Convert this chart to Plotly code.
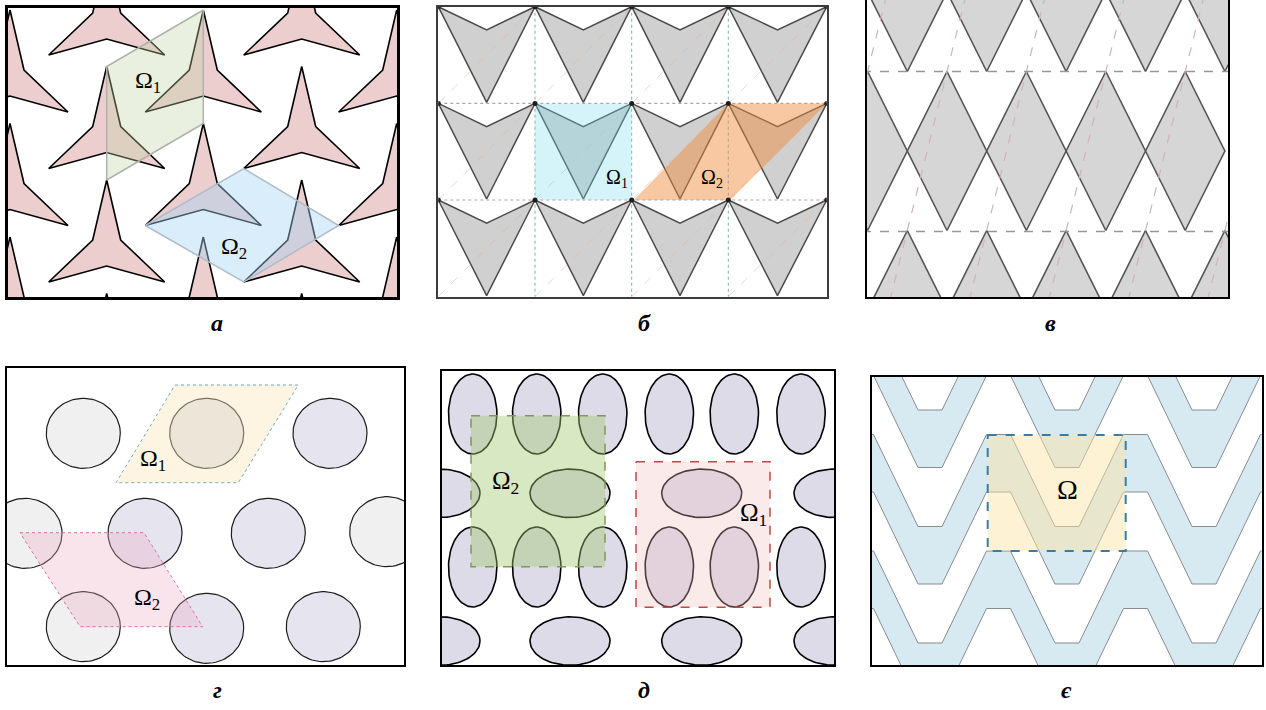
import numpy as np
import plotly.graph_objects as go

# ======================= DATA (panel-local pixel units) =======================
# (а) three-armed stars: outline relative to the upper tip, lattice of tips
STAR_DX = [0, 14, 58, 0, -58, -14]
STAR_DY = [0, 60, 102, 86, 102, 60]
STAR_COL_X = [2, 98.7, 195.3, 293.7, 388.7]
STAR_ROW_Y_EVEN = [2, 115.5, 229]
STAR_ROW_Y_ODD = [-55, 58.5, 172, 285.5]
A_OMEGA1_X = [195.3, 98.7, 98.7, 195.3]
A_OMEGA1_Y = [2, 58.5, 172, 115.5]
A_OMEGA2_X = [137.3, 235.7, 330.7, 235.7]
A_OMEGA2_Y = [217.5, 160.5, 217.5, 274]

# (б) square cells with down-pointing arrowheads
B_GRID_X = [0, 96.7, 193.4, 290, 388.4]
B_GRID_Y = [0, 96.7, 193.3, 290]
B_NOTCH = 0.24
B_OMEGA1_CELL = (1, 1)
B_OMEGA2_X = [195.4, 292, 388.4, 290]
B_OMEGA2_Y = [193.3, 193.3, 96.7, 96.7]

# (в) rhombi
V_MID_X = [0.6, 80, 159.4, 238.8, 318.2]
V_OFF_X = [-39.1, 40.3, 119.7, 199.1, 278.5, 357.9]
V_ROW_Y = [-8, 151, 310]
V_HALF_W = 39.7
V_HALF_H = 79.5
V_HLINE_Y = [71.5, 231.5]
V_SLANT_X = [-78.8, 0.6, 80, 159.4, 238.8, 318.2, 397.6]

# (г) circles
G_CX = [76.3, 199.7, 323, 18, 138, 261.3, 379.7, 76.3, 199.7, 316.3]
G_CY = [65.3, 65.3, 65.3, 165.3, 165.3, 165.3, 163.7, 258.7, 260.3, 258.7]
G_TONE = ['grey', 'lav', 'lav', 'grey', 'lav', 'lav', 'grey', 'grey', 'lav', 'lav']
G_RX, G_RY = 37, 35
G_OMEGA1_X = [168, 291.3, 231.3, 109]
G_OMEGA1_Y = [17, 17, 114.7, 114.7]
G_OMEGA2_X = [13, 137, 195.7, 73]
G_OMEGA2_Y = [164.7, 164.7, 258.7, 258.7]

# (д) ellipses
D_VERT_X = [31, 95, 161, 227.6, 292.6, 359.3]
D_VERT_Y = [43.3, 196.3]
D_HOR_X = [-1.7, 128.3, 260, 392.3]
D_HOR_Y = [122.6, 270.3]
D_LONG, D_SHORT = 40, 24.2
D_OMEGA1 = (194.3, 91, 328.3, 236.6)
D_OMEGA2 = (29.3, 45, 163.3, 196)

# (є) chevron bands
E_BOTTOM_X = [-78.7, 58.3, 195.3, 332.3, 469.3]
E_BAND_TOP_Y = [-83.2, 33.3, 149.8, 266.3, 382.8]
E_PERIOD = 137
E_FLAT = 24
E_AMPL = 92
E_THICK = 57.5
E_OMEGA = (116, 58.3, 254, 174.3)

# ======================= LAYOUT =======================
W, H = 1266, 710
FRAMES = [
    (8, 8, 397, 297),
    (438.3, 6.7, 826.7, 296.7),
    (867, 0, 1228, 297),
    (7, 368, 404, 665),
    (441.7, 370.7, 834.3, 665),
    (871.7, 376.7, 1261.7, 665),
]
FRAME_STYLE = [(2.5, 'black'), (1.5, 'rgb(60,60,60)'), (2, 'black'),
               (2, 'black'), (2, 'black'), (2, 'black')]
LETTERS = ['а', 'б', 'в', 'г', 'д', 'є']
LETTER_POS = [(217, 323), (644, 323), (1050, 323), (217, 690), (644, 690), (1066, 690)]
SERIF = 'Liberation Serif, Times New Roman, serif'

fig = go.Figure()


def refs(i):
    s = '' if i == 1 else str(i)
    return 'x' + s, 'y' + s


def add_polys(i, polys, fill, lc, lw, dash='solid'):
    X, Y = [], []
    for xs, ys in polys:
        X += list(xs) + [xs[0], None]
        Y += list(ys) + [ys[0], None]
    xr, yr = refs(i)
    fig.add_trace(go.Scatter(x=X, y=Y, mode='lines', fill='toself', fillcolor=fill,
                             line=dict(color=lc, width=lw, dash=dash),
                             xaxis=xr, yaxis=yr, hoverinfo='skip', showlegend=False))


def add_lines(i, segs, lc, lw, dash='solid'):
    X, Y = [], []
    for xs, ys in segs:
        X += list(xs) + [None]
        Y += list(ys) + [None]
    xr, yr = refs(i)
    fig.add_trace(go.Scatter(x=X, y=Y, mode='lines', line=dict(color=lc, width=lw, dash=dash),
                             xaxis=xr, yaxis=yr, hoverinfo='skip', showlegend=False))


def label(i, x, y, text, size):
    xr, yr = refs(i)
    fig.add_annotation(x=x, y=y, xref=xr, yref=yr, text=text, showarrow=False,
                       font=dict(family=SERIF, size=size, color='black'))


def ellipse(cx, cy, rx, ry, n=90):
    t = np.linspace(0, 2 * np.pi, n, endpoint=False)
    return cx + rx * np.cos(t), cy + ry * np.sin(t)


# ---- (а)
stars = []
for c, sx in enumerate(STAR_COL_X):
    rows = STAR_ROW_Y_EVEN if c % 2 == 0 else STAR_ROW_Y_ODD
    for sy in rows:
        stars.append(([sx + d for d in STAR_DX], [sy + d for d in STAR_DY]))
add_polys(1, stars, 'rgb(236,206,206)', 'black', 1.6)
add_polys(1, [(A_OMEGA1_X, A_OMEGA1_Y)], 'rgba(195,212,165,0.35)', 'rgb(175,178,170)', 1.5)
add_polys(1, [(A_OMEGA2_X, A_OMEGA2_Y)], 'rgba(165,212,245,0.42)', 'rgb(175,188,200)', 1.5)
label(1, 140, 74, 'Ω<sub>1</sub>', 24)
label(1, 226, 240, 'Ω<sub>2</sub>', 24)

# ---- (б)
arrows = []
for r in range(len(B_GRID_Y) - 1):
    for c in range(len(B_GRID_X) - 1):
        x0, x1 = B_GRID_X[c], B_GRID_X[c + 1]
        y0, y1 = B_GRID_Y[r], B_GRID_Y[r + 1]
        xm = (x0 + x1) / 2
        arrows.append(([x0, xm, x1, xm], [y0, y0 + B_NOTCH * (y1 - y0), y0, y1 - 1]))
add_polys(2, arrows, 'rgb(208,208,208)', 'rgb(75,75,75)', 1.5)
diag = []
for r in range(len(B_GRID_Y) - 1):
    for c in range(len(B_GRID_X) - 1):
        diag.append(([B_GRID_X[c], B_GRID_X[c + 1]], [B_GRID_Y[r + 1], B_GRID_Y[r]]))
add_lines(2, diag, 'rgba(225,180,160,0.55)', 1, 'dash')
add_lines(2, [([gx, gx], [B_GRID_Y[0], B_GRID_Y[-1]]) for gx in B_GRID_X[1:-1]],
          'rgb(110,180,180)', 1, 'dot')
add_lines(2, [([B_GRID_X[0], B_GRID_X[-1]], [gy, gy]) for gy in B_GRID_Y[1:-1]],
          'rgb(175,165,160)', 1.2, 'dot')
c1, r1 = B_OMEGA1_CELL
add_polys(2, [([B_GRID_X[c1], B_GRID_X[c1 + 1], B_GRID_X[c1 + 1], B_GRID_X[c1]],
               [B_GRID_Y[r1], B_GRID_Y[r1], B_GRID_Y[r1 + 1], B_GRID_Y[r1 + 1]])],
          'rgba(120,222,236,0.32)', 'rgba(0,0,0,0)', 0)
add_polys(2, [(B_OMEGA2_X, B_OMEGA2_Y)], 'rgba(240,140,60,0.48)', 'rgba(0,0,0,0)', 0)
dx, dy = [], []
for gy in B_GRID_Y[:-1]:
    for gx in B_GRID_X:
        dx.append(gx)
        dy.append(gy)
fig.add_trace(go.Scatter(x=dx, y=dy, mode='markers', marker=dict(size=5, color='rgb(30,30,30)'),
                         xaxis='x2', yaxis='y2', hoverinfo='skip', showlegend=False, cliponaxis=True))
label(2, 179, 172, 'Ω<sub>1</sub>', 20)
label(2, 274, 172, 'Ω<sub>2</sub>', 20)

# ---- (в)
dia = []
for ri, ry in enumerate(V_ROW_Y):
    xs = V_MID_X if ri == 1 else V_OFF_X
    for rx in xs:
        dia.append(([rx, rx + V_HALF_W, rx, rx - V_HALF_W],
                    [ry - V_HALF_H, ry, ry + V_HALF_H, ry]))
add_polys(3, dia, 'rgb(214,214,214)', 'rgb(85,85,85)', 1.6)
slope = V_HALF_W / (2 * V_HALF_H)
y_top, y_bot = -5, 302
add_lines(3, [([sx - slope * (y_top - V_HLINE_Y[0]), sx - slope * (y_bot - V_HLINE_Y[0])],
               [y_top, y_bot]) for sx in V_SLANT_X], 'rgb(208,178,186)', 1.2, 'dash')
add_lines(3, [([-5, 370], [hy, hy]) for hy in V_HLINE_Y], 'rgb(150,150,150)', 1.5, 'dash')

# ---- (г)
tones = {'grey': 'rgb(240,240,241)', 'lav': 'rgb(230,228,239)'}
for tone in ('grey', 'lav'):
    circ = [ellipse(x, y, G_RX, G_RY) for x, y, t in zip(G_CX, G_CY, G_TONE) if t == tone]
    add_polys(4, circ, tones[tone], 'rgb(30,30,30)', 1.2)
add_polys(4, [(G_OMEGA1_X, G_OMEGA1_Y)], 'rgba(250,232,185,0.42)', 'rgb(110,170,190)', 1, 'dot')
add_polys(4, [(G_OMEGA2_X, G_OMEGA2_Y)], 'rgba(235,170,192,0.32)', 'rgb(225,110,160)', 1, 'dot')
label(4, 146, 92, 'Ω<sub>1</sub>', 24)
label(4, 140, 231, 'Ω<sub>2</sub>', 24)

# ---- (д)
ells = []
for y in D_VERT_Y:
    for x in D_VERT_X:
        ells.append(ellipse(x, y, D_SHORT, D_LONG))
for y in D_HOR_Y:
    for x in D_HOR_X:
        ells.append(ellipse(x, y, D_LONG, D_SHORT))
add_polys(5, ells, 'rgb(222,219,233)', 'black', 1.6)
for (x0, y0, x1, y1), fc, lc in [(D_OMEGA1, 'rgba(240,190,190,0.32)', 'rgb(195,70,70)'),
                                 (D_OMEGA2, 'rgba(160,200,110,0.42)', 'rgb(130,150,90)')]:
    add_polys(5, [([x0, x1, x1, x0], [y0, y0, y1, y1])], fc, lc, 1.5, 'dash')
label(5, 312, 144, 'Ω<sub>1</sub>', 25)
label(5, 64, 112, 'Ω<sub>2</sub>', 25)

# ---- (є)
slant = (E_PERIOD - 2 * E_FLAT) / 2
bands = []
edges = []
for yb in E_BAND_TOP_Y:
    ux, uy = [], []
    for xb in E_BOTTOM_X:
        ux += [xb - E_FLAT / 2, xb + E_FLAT / 2, xb + E_FLAT / 2 + slant, xb + 1.5 * E_FLAT + slant]
        uy += [yb, yb, yb - E_AMPL, yb - E_AMPL]
    lx = ux[::-1]
    ly = [v + E_THICK for v in uy[::-1]]
    bands.append((ux + lx, uy + ly))
    edges.append((ux, uy))
    edges.append((ux, [v + E_THICK for v in uy]))
add_polys(6, bands, 'rgb(215,234,241)', 'rgba(0,0,0,0)', 0)
add_lines(6, edges, 'rgb(135,140,145)', 1)
ex0, ey0, ex1, ey1 = E_OMEGA
add_polys(6, [([ex0, ex1, ex1, ex0], [ey0, ey0, ey1, ey1])], 'rgba(251,228,165,0.48)',
          'rgb(55,125,165)', 2, 'dash')
label(6, 196, 113, 'Ω', 28)

# ---- axes (one per panel, in page pixels)
for i, ((x0, y0, x1, y1), (lw, lc)) in enumerate(zip(FRAMES, FRAME_STYLE), start=1):
    s = '' if i == 1 else str(i)
    common = dict(showline=True, linecolor=lc, linewidth=lw, showgrid=False, zeroline=False,
                  showticklabels=False, ticks='', fixedrange=True)
    fig.update_layout({
        'xaxis' + s: dict(domain=[x0 / W, x1 / W], range=[0, x1 - x0], anchor='y' + s,
                          mirror=(i != 3), **common),
        'yaxis' + s: dict(domain=[1 - y1 / H, 1 - y0 / H], range=[y1 - y0, 0], anchor='x' + s,
                          mirror=True, **common),
    })

for t, (px, py) in zip(LETTERS, LETTER_POS):
    fig.add_annotation(x=px / W, y=1 - py / H, xref='paper', yref='paper',
                       text='<b><i>' + t + '</i></b>', showarrow=False,
                       xanchor='center', yanchor='middle',
                       font=dict(family=SERIF, size=24, color='black'))

fig.update_layout(width=W, height=H, margin=dict(l=0, r=0, t=0, b=0),
                  font=dict(family=SERIF, size=20, color='black'),
                  paper_bgcolor='white', plot_bgcolor='white', showlegend=False)

fig.write_html("out.html", post_script="document.body.style.margin='0px';",
               config={'displayModeBar': False})
